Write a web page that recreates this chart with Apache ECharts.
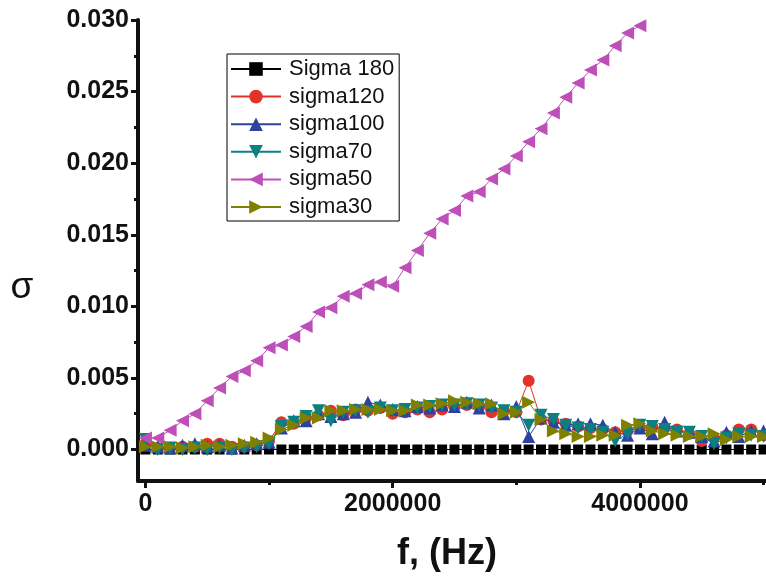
<!DOCTYPE html>
<html>
<head>
<meta charset="utf-8">
<script src="https://cdn.jsdelivr.net/npm/echarts@6/dist/echarts.min.js"></script>
<style>html,body{margin:0;padding:0;background:#fff}#c{width:766px;height:577px}</style>
</head>
<body>
<div id="c"></div>
<script>
// Frequency (Hz)
var xValues = [0,100000,200000,300000,400000,500000,600000,700000,800000,900000,
  1000000,1100000,1200000,1300000,1400000,1500000,1600000,1700000,1800000,1900000,
  2000000,2100000,2200000,2300000,2400000,2500000,2600000,2700000,2800000,2900000,
  3000000,3100000,3200000,3300000,3400000,3500000,3600000,3700000,3800000,3900000,
  4000000,4100000,4200000,4300000,4400000,4500000,4600000,4700000,4800000,4900000,5000000];

var sigma180 = [0,0,0,0,0,0,0,0,0,0, 0,0,0,0,0,0,0,0,0,0, 0,0,0,0,0,0,0,0,0,0,
  0,0,0,0,0,0,0,0,0,0, 0,0,0,0,0,0,0,0,0,0,0];

var sigma120 = [0.0004,0.0001,0.0001,0.0002,0.0002,0.0004,0.0004,0.0002,0.0002,0.0003,
  0.0006,0.0019,0.0018,0.0022,0.0024,0.0027,0.0024,0.0028,0.0027,0.0029,
  0.0025,0.0026,0.0028,0.0026,0.0028,0.0030,0.0031,0.0030,0.0026,0.0027,
  0.0026,0.0048,0.0021,0.0020,0.0018,0.0016,0.0015,0.0014,0.0012,0.0013,
  0.0015,0.0016,0.0015,0.0014,0.0011,0.0006,0.0008,0.0010,0.0014,0.0014,0.0010];

var sigma100 = [0.0003,0.0002,0.0001,0.0003,0.0004,0.0002,0.0003,0.0001,0.0003,0.0004,
  0.0005,0.0015,0.0020,0.0020,0.0025,0.0023,0.0025,0.0026,0.0033,0.0031,
  0.0028,0.0027,0.0030,0.0029,0.0031,0.0030,0.0033,0.0029,0.0031,0.0025,
  0.0030,0.0009,0.0022,0.0019,0.0017,0.0018,0.0018,0.0017,0.0012,0.0010,
  0.0015,0.0011,0.0019,0.0013,0.0012,0.0009,0.0006,0.0012,0.0009,0.0013,0.0013];

var sigma70 = [0.0007,0.0000,0.0001,0.0000,0.0001,0.0000,0.0001,0.0000,0.0001,0.0002,
  0.0004,0.0016,0.0019,0.0023,0.0027,0.0020,0.0026,0.0027,0.0026,0.0029,
  0.0027,0.0028,0.0029,0.0030,0.0031,0.0031,0.0032,0.0031,0.0029,0.0027,
  0.0026,0.0017,0.0024,0.0021,0.0017,0.0015,0.0014,0.0012,0.0006,0.0011,
  0.0017,0.0016,0.0014,0.0012,0.0012,0.0009,0.0004,0.0008,0.0011,0.0010,0.0009];

var sigma50 = [0.0008,0.0008,0.00135,0.0020,0.0025,0.0034,0.0043,0.0051,0.0055,0.0062,
  0.0071,0.0073,0.0079,0.0086,0.0096,0.0099,0.0107,0.0109,0.0115,0.0117,
  0.0114,0.0127,0.0139,0.0151,0.0161,0.0167,0.0177,0.0180,0.0189,0.0196,
  0.0205,0.0215,0.0224,0.0235,0.0246,0.0256,0.0265,0.0272,0.0282,0.0291,0.0296];

var sigma30 = [0.0002,0.0002,0.0002,0.0001,0.0002,0.0003,0.0002,0.0003,0.0004,0.0005,
  0.0008,0.0014,0.0017,0.0022,0.0022,0.0027,0.0027,0.0028,0.0028,0.0028,
  0.0027,0.0027,0.0031,0.0031,0.0032,0.0034,0.0033,0.0032,0.0032,0.0025,
  0.0026,0.0033,0.0021,0.0013,0.0011,0.0009,0.0009,0.0010,0.0010,0.0017,
  0.0018,0.0013,0.0011,0.0010,0.0009,0.0009,0.0011,0.0007,0.0009,0.0009,0.0009];

var xMajorTicks = [0, 2000000, 4000000];
var xMinorTicks = [1000000, 3000000, 5000000];
var yMajorTicks = [0, 0.005, 0.010, 0.015, 0.020, 0.025, 0.030];
var yMinorTicks = [0.0025, 0.0075, 0.0125, 0.0175, 0.0225, 0.0275];

var seriesNames = ['Sigma 180','sigma120','sigma100','sigma70','sigma50','sigma30'];
var seriesData = [sigma180, sigma120, sigma100, sigma70, sigma50, sigma30];
var colors = ['#000000','#e2322a','#30409f','#0a8080','#bf4fb8','#808000'];
var symbols = ['rect','circle','triangle','triangle','triangle','triangle'];
var rotates = [0,0,0,180,90,-90];
var sizes = [10,12,13,13,13,13];

function pairs(arr){ return arr.map(function(v,i){ return [xValues[i], v]; }); }

var chart = echarts.init(document.getElementById('c'), null, {renderer:'canvas'});
var axisCol = '#111111';
var ff = '"Liberation Sans", Arial, sans-serif';

var series = seriesNames.map(function(n, i){
  return {
    name: n, type:'line', xAxisIndex:0, yAxisIndex:0,
    data: pairs(seriesData[i]),
    symbol: symbols[i], symbolSize: sizes[i], symbolRotate: rotates[i],
    showAllSymbol: true,
    lineStyle: {color: colors[i], width: 1},
    itemStyle: {color: colors[i]},
    clip: true, z: 2 + i
  };
});

chart.setOption({
  animation: false,
  backgroundColor: '#fff',
  grid: {left:138, right:0, top:20, bottom:94, containLabel:false},
  legend: {
    data: seriesNames, orient:'vertical', left:227, top:54,
    itemWidth:50, itemHeight:17, itemGap:5.6,
    padding:[4,5,3,3], borderColor:'#000', borderWidth:1,
    selectedMode:false,
    textStyle:{fontFamily:ff, fontSize:22, color:'#111', padding:[0,0,0,3]}
  },
  xAxis: [{
    type:'value', min:-60000, max:5020000,
    axisLine:{show:true, onZero:false, lineStyle:{color:axisCol, width:4}},
    axisTick:{show:true, customValues:xMajorTicks, length:7, lineStyle:{color:axisCol, width:3}},
    axisLabel:{show:true, customValues:xMajorTicks, margin:11, formatter:function(v){return String(v);}, fontFamily:ff, fontWeight:'bold', fontSize:25, color:'#111'},
    splitLine:{show:false},
    name:'f, (Hz)', nameLocation:'middle', nameGap:55,
    nameTextStyle:{fontFamily:ff, fontWeight:'bold', fontSize:36, color:'#111', padding:[0,10,0,0]}
  },{
    type:'value', min:-60000, max:5020000, position:'bottom',
    axisLine:{show:false, onZero:false},
    axisTick:{show:true, customValues:xMinorTicks, length:4, lineStyle:{color:axisCol, width:3}},
    axisLabel:{show:false}, splitLine:{show:false}
  }],
  yAxis: [{
    type:'value', min:-0.0022, max:0.030,
    axisLine:{show:true, onZero:false, lineStyle:{color:axisCol, width:4}},
    axisTick:{show:true, customValues:yMajorTicks, length:7, lineStyle:{color:axisCol, width:3}},
    axisLabel:{show:true, customValues:yMajorTicks, margin:9, formatter:function(v){return v.toFixed(3);}, fontFamily:ff, fontWeight:'bold', fontSize:25, color:'#111'},
    splitLine:{show:false}
  },{
    type:'value', min:-0.0022, max:0.030, position:'left',
    axisLine:{show:false, onZero:false},
    axisTick:{show:true, customValues:yMinorTicks, length:4, lineStyle:{color:axisCol, width:3}},
    axisLabel:{show:false}, splitLine:{show:false}
  }],
  graphic: [{
    type:'text', x:22, y:288,
    style:{text:'σ', textAlign:'center', textVerticalAlign:'middle', font:'37px "Liberation Sans", Arial, sans-serif', fill:'#111'}
  }],
  series: series
});
</script>
</body>
</html>
